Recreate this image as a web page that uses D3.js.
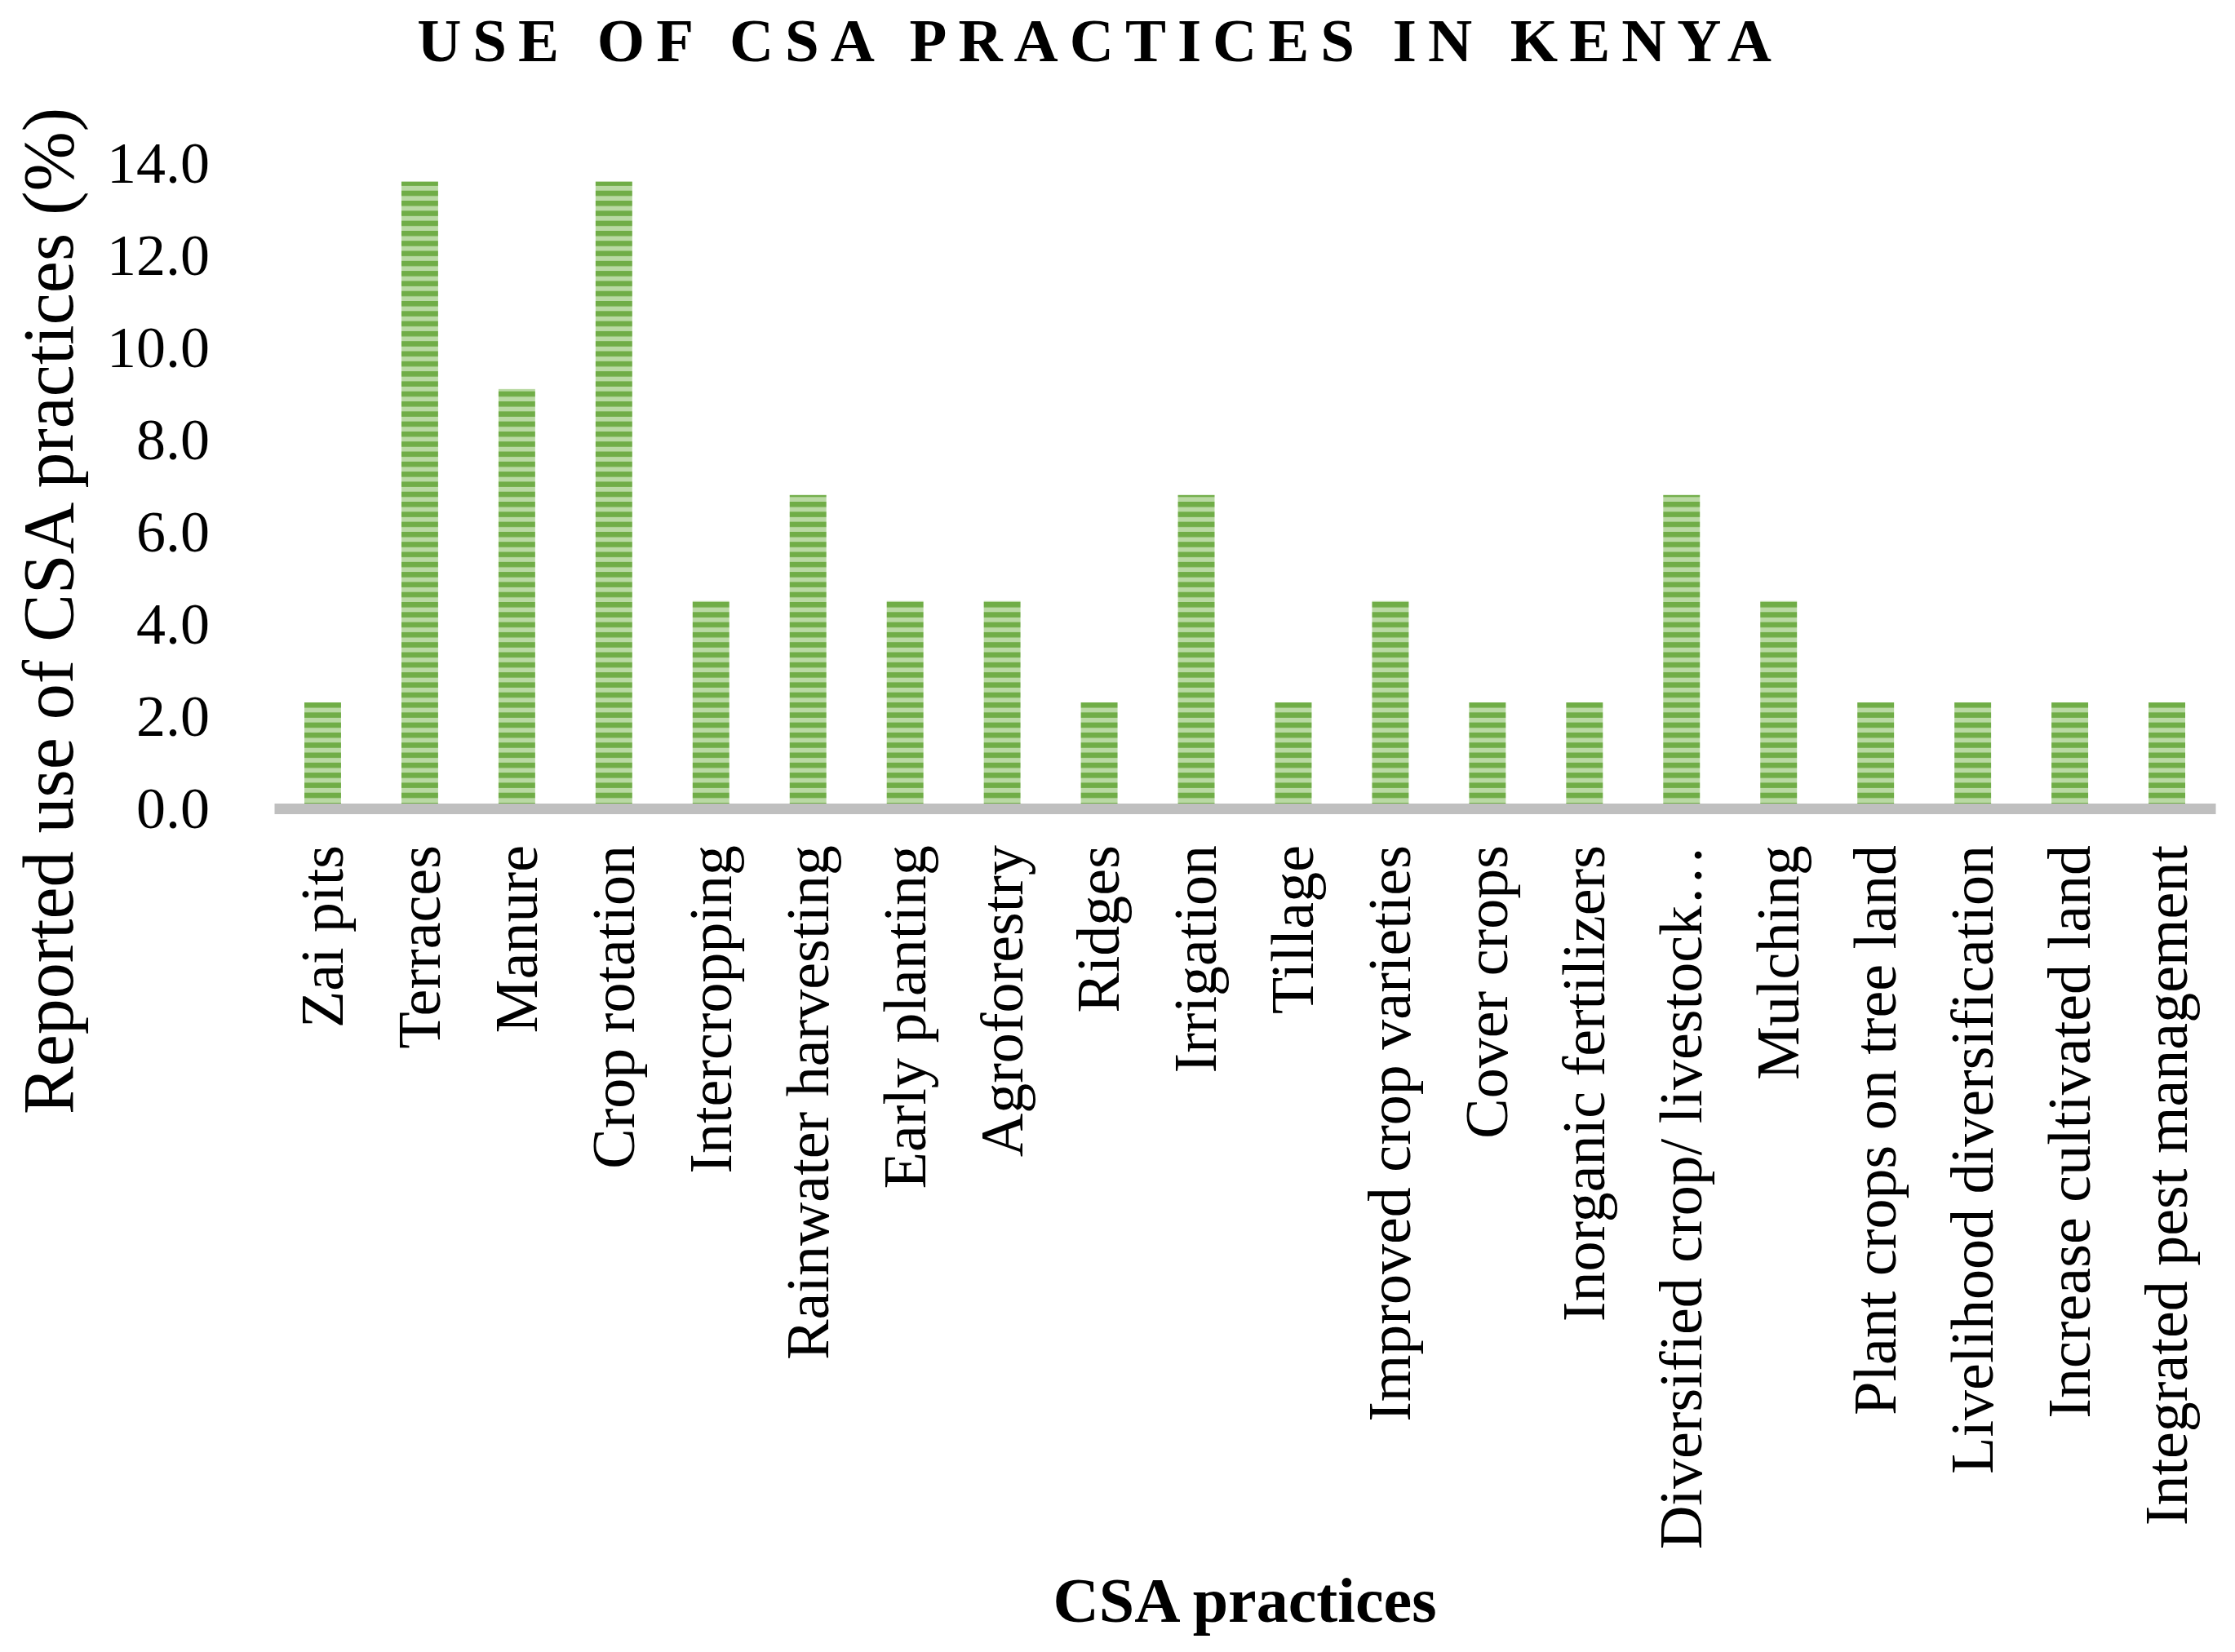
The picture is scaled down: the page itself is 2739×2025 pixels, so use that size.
<!DOCTYPE html>
<html>
<head>
<meta charset="utf-8">
<script src="https://cdn.jsdelivr.net/npm/d3@7"></script>
<style>
  body { margin: 0; background: #fff; }
  svg { display: block; font-family: "Liberation Serif", "Times New Roman", serif; }
</style>
</head>
<body>
<div id="chart"></div>
<script>
// values (share of respondents, %)
var practices = [
  "Zai pits", "Terraces", "Manure", "Crop rotation", "Intercropping",
  "Rainwater harvesting", "Early planting", "Agroforestry", "Ridges", "Irrigation",
  "Tillage", "Improved crop varieties", "Cover crops", "Inorganic fertilizers",
  "Diversified crop/ livestock\u2026", "Mulching", "Plant crops on tree land",
  "Livelihood diversification", "Increase cultivated land", "Integrated pest management"
];
var usage = [2.3, 13.6, 9.1, 13.6, 4.5, 6.8, 4.5, 4.5, 2.3, 6.8,
             2.3, 4.5, 2.3, 2.3, 6.8, 4.5, 2.3, 2.3, 2.3, 2.3];
var yTicks = [0, 2, 4, 6, 8, 10, 12, 14];

var data = practices.map(function(p, i) { return {name: p, value: usage[i]}; });

var W = 2739, H = 2025;
var plot = {left: 336, right: 2715, top: 200, bottom: 991};

var svg = d3.select("#chart").append("svg")
    .attr("width", W)
    .attr("height", H);

// striped fill like the Excel "dark horizontal" pattern
var defs = svg.append("defs");
var pat = defs.append("pattern")
    .attr("id", "stripes")
    .attr("patternUnits", "userSpaceOnUse")
    .attr("width", 10)
    .attr("height", 12.3);
pat.append("rect").attr("width", 10).attr("height", 12.3).attr("fill", "#b9d9a3");
pat.append("rect").attr("width", 10).attr("height", 6.5).attr("fill", "#70ad47");

var x = d3.scaleBand()
    .domain(practices)
    .range([plot.left, plot.right])
    .paddingInner(0.622)
    .paddingOuter(0.311);

var y = d3.scaleLinear()
    .domain([0, 14])
    .range([plot.bottom, plot.top]);

// title
svg.append("text")
    .attr("x", 1348)
    .attr("y", 75)
    .attr("text-anchor", "middle")
    .style("font-size", "75px")
    .style("font-weight", "bold")
    .style("letter-spacing", "14px")
    .text("USE OF CSA PRACTICES IN KENYA");

// bars
svg.selectAll(".bar")
    .data(data)
  .enter().append("rect")
    .attr("class", "bar")
    .attr("x", function(d) { return x(d.name); })
    .attr("width", x.bandwidth())
    .attr("y", function(d) { return y(d.value); })
    .attr("height", function(d) { return y(0) - y(d.value); })
    .attr("fill", "url(#stripes)");

// y axis (labels only)
var yAxis = svg.append("g")
    .attr("transform", "translate(" + (plot.left - 6) + ",0)")
    .call(d3.axisLeft(y).tickValues(yTicks).tickFormat(d3.format(".1f")).tickSize(0).tickPadding(73));
yAxis.select(".domain").remove();
yAxis.selectAll("text")
    .style("font-family", "Liberation Serif, serif")
    .style("font-size", "72px")
    .attr("fill", "#000");

// x axis line + rotated category labels
var xAxis = svg.append("g")
    .attr("transform", "translate(0," + plot.bottom + ")")
    .call(d3.axisBottom(x).tickSize(0).tickSizeOuter(0));
xAxis.select(".domain")
    .attr("stroke", "#bfbfbf")
    .attr("stroke-width", 13);
xAxis.selectAll("text")
    .style("font-family", "Liberation Serif, serif")
    .style("font-size", "74px")
    .attr("fill", "#000")
    .style("text-anchor", "end")
    .attr("x", -45)
    .attr("y", 0)
    .attr("dy", "0.33em")
    .attr("transform", "rotate(-90)");

// axis titles
svg.append("text")
    .attr("transform", "translate(60,749) rotate(-90)")
    .attr("text-anchor", "middle")
    .attr("dy", "0.33em")
    .style("font-size", "88px")
    .text("Reported use of CSA practices (%)");

svg.append("text")
    .attr("x", (plot.left + plot.right) / 2)
    .attr("y", 1988)
    .attr("text-anchor", "middle")
    .style("font-size", "78px")
    .style("font-weight", "bold")
    .text("CSA practices");
</script>
</body>
</html>
